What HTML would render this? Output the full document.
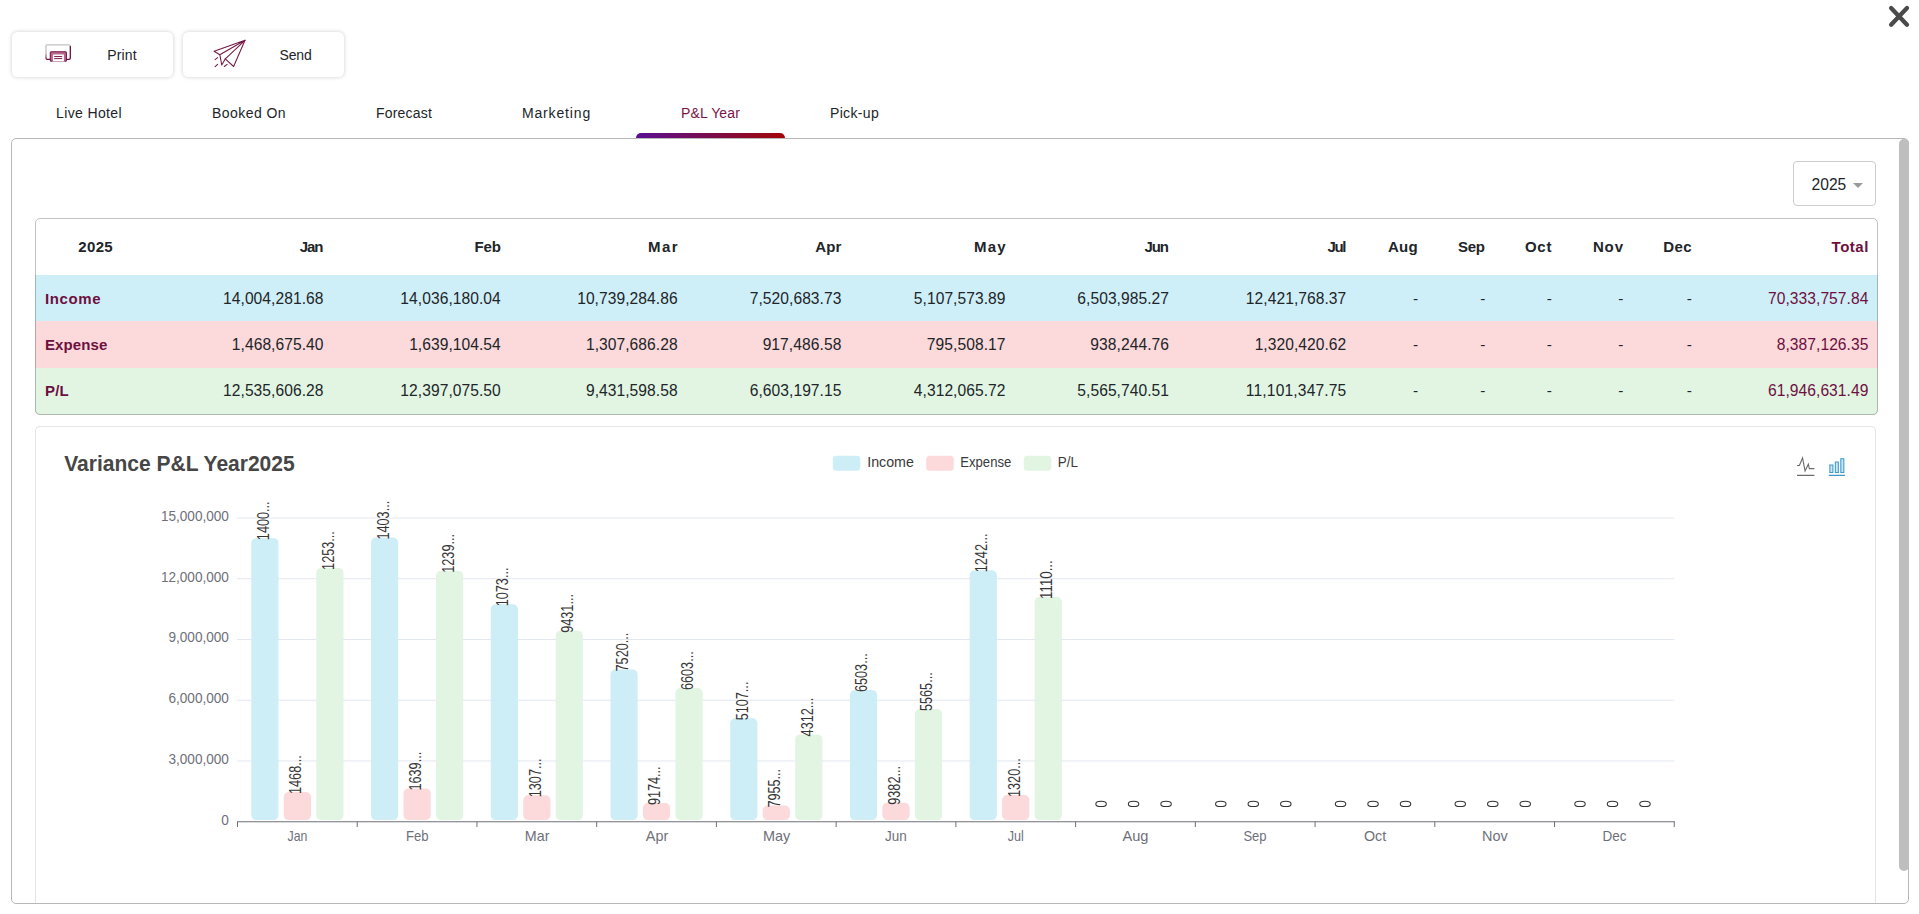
<!DOCTYPE html>
<html><head><meta charset="utf-8"><title>P&amp;L Year</title>
<style>
html,body{margin:0;padding:0;}
body{width:1919px;height:914px;overflow:hidden;background:#fff;position:relative;font-family:"Liberation Sans",sans-serif;color:#212529;}
.abs{position:absolute;}
.btn{position:absolute;top:32px;height:45.2px;width:161.5px;box-sizing:border-box;border-radius:5.5px;background:#fff;box-shadow:0 0 4px rgba(0,0,0,.2);}
.t{position:absolute;white-space:nowrap;line-height:1;}
.tab{position:absolute;top:105px;font-size:14px;color:#212529;white-space:nowrap;line-height:16px;}
.panel{position:absolute;left:11px;top:138px;width:1898px;height:766px;box-sizing:border-box;border:1px solid #b8b8b8;border-radius:5px;overflow:hidden;}
.tbl{position:absolute;left:35px;top:218px;width:1843px;height:197px;box-sizing:border-box;border-radius:5px;overflow:hidden;background:#fff;}
.tblb{position:absolute;left:35px;top:218px;width:1843px;height:197px;box-sizing:border-box;border:1px solid rgba(0,0,0,.24);border-radius:5px;}
.row{position:absolute;left:0;width:100%;}
.c{position:absolute;white-space:nowrap;font-size:15px;line-height:18px;text-align:right;}
.h{font-weight:bold;color:#212529;}
.m{color:#6d1040;}
</style></head><body>

<svg class="abs" style="left:1880px;top:0px" width="36" height="34" viewBox="1880 0 36 34"><path d="M1891.1 8 L1907 24.8 M1907 8 L1891.1 24.8" stroke="#4a4a4a" stroke-width="4.3" stroke-linecap="round" fill="none"/></svg>
<div class="btn" style="left:11.5px"></div>
<div class="btn" style="left:182.9px"></div>
<svg class="abs" style="left:40px;top:40px" width="40" height="28" viewBox="40 40 40 28">
<defs><linearGradient id="pg" x1="0" y1="0" x2="0" y2="1"><stop offset="0" stop-color="#c4c4c4"/><stop offset="0.55" stop-color="#c9b3bd"/><stop offset="1" stop-color="#6d1040"/></linearGradient></defs>
<path d="M50.3 59.3 H47.2 Q46 59.3 46 58.1 V46" fill="none" stroke="url(#pg)" stroke-width="1.3"/>
<path d="M46 46 Q46 44.8 47.2 44.8 H69 Q70.3 44.8 70.3 46" fill="none" stroke="#c2c2c2" stroke-width="1.3"/>
<path d="M70.3 46 V58.1 Q70.3 59.3 69.1 59.3 H66.5" fill="none" stroke="#6d1040" stroke-width="1.3"/>
<rect x="50.3" y="51.7" width="16.1" height="9.5" rx="1" fill="#b9678c" stroke="#74194a" stroke-width="1.1"/>
<rect x="52.9" y="54.5" width="11" height="7.3" fill="#fff"/>
<path d="M52.2 61.5 H64.6" stroke="#c9a2b6" stroke-width="0.9" fill="none"/>
<path d="M54.2 56.55 H62.2 M54.2 58.6 H62.2" stroke="#7a1c4b" stroke-width="1" fill="none"/>
</svg>
<svg class="abs" style="left:206px;top:34px" width="48" height="36" viewBox="206 34 48 36">
<g fill="none" stroke="#761846" stroke-width="1.05" stroke-linejoin="round" stroke-linecap="round">
<path d="M245 40.3 L214.1 51.3 L219.8 54.7 L245 40.3 L225.3 58.8 L221.8 65.1 L219.8 54.7"/>
<path d="M225.3 58.8 L233.6 66.5 L245 40.3"/>
<path d="M215.1 59.6 L217.6 57.6 M215.1 66.7 L217.6 64.3 M224.3 66.5 L227.1 64.3"/>
</g></svg>
<div class="t" style="left:107.30px;top:48.15px;font-size:14px;letter-spacing:0.143px;color:#212529;">Print</div>
<div class="t" style="left:279.50px;top:48.15px;font-size:14px;letter-spacing:-0.174px;color:#212529;">Send</div>
<div class="t" style="left:56.00px;top:106.15px;font-size:14px;letter-spacing:0.000px;color:#212529;letter-spacing:0.374px;">Live Hotel</div>
<div class="t" style="left:212.00px;top:106.15px;font-size:14px;letter-spacing:0.000px;color:#212529;letter-spacing:0.439px;">Booked On</div>
<div class="t" style="left:376.00px;top:106.15px;font-size:14px;letter-spacing:0.000px;color:#212529;letter-spacing:0.192px;">Forecast</div>
<div class="t" style="left:522.00px;top:106.15px;font-size:14px;letter-spacing:0.000px;color:#212529;letter-spacing:0.837px;">Marketing</div>
<div class="t" style="left:681.00px;top:106.15px;font-size:14px;letter-spacing:0.000px;color:#7a1548;letter-spacing:0.142px;">P&amp;L Year</div>
<div class="t" style="left:830.00px;top:106.15px;font-size:14px;letter-spacing:0.000px;color:#212529;letter-spacing:0.331px;">Pick-up</div>
<div class="abs" style="left:636px;top:133px;width:149px;height:6px;border-radius:5px 5px 0 0;background:linear-gradient(90deg,#5a0f96,#7a0d4a 50%,#a30606);"></div>
<div class="panel"></div>
<div class="abs" style="left:1793px;top:161px;width:83px;height:45px;box-sizing:border-box;border:1px solid #cdcdcd;border-radius:4px;background:#fff"></div>
<div class="t" style="left:1811.60px;top:176.59px;font-size:15.6px;letter-spacing:-0.026px;color:#212529;">2025</div>
<svg class="abs" style="left:1852px;top:182px" width="12" height="7" viewBox="0 0 12 7"><path d="M1 1 H11 L6 6 Z" fill="#9a9a9a"/></svg>
<div class="tbl">
<div class="row" style="top:57px;height:140px;background:#cfeff8"></div>
<div class="row" style="top:103.3px;height:94px;background:#fcd9da"></div>
<div class="row" style="top:149.7px;height:48px;background:#e2f5e3"></div>
</div><div class="tblb"></div>
<div class="t" style="left:78.30px;top:239.30px;font-size:15px;letter-spacing:0.333px;color:#212529;font-weight:bold;">2025</div>
<div class="t" style="left:299.70px;top:239.30px;font-size:15px;letter-spacing:-1.022px;color:#212529;font-weight:bold;">Jan</div>
<div class="t" style="left:474.55px;top:239.30px;font-size:15px;letter-spacing:-0.210px;color:#212529;font-weight:bold;">Feb</div>
<div class="t" style="left:648.10px;top:239.30px;font-size:15px;letter-spacing:1.415px;color:#212529;font-weight:bold;">Mar</div>
<div class="t" style="left:815.15px;top:239.30px;font-size:15px;letter-spacing:0.210px;color:#212529;font-weight:bold;">Apr</div>
<div class="t" style="left:974.00px;top:239.30px;font-size:15px;letter-spacing:1.162px;color:#212529;font-weight:bold;">May</div>
<div class="t" style="left:1144.50px;top:239.30px;font-size:15px;letter-spacing:-1.085px;color:#212529;font-weight:bold;">Jun</div>
<div class="t" style="left:1327.55px;top:239.30px;font-size:15px;letter-spacing:-1.463px;color:#212529;font-weight:bold;">Jul</div>
<div class="t" style="left:1388.00px;top:239.30px;font-size:15px;letter-spacing:0.270px;color:#212529;font-weight:bold;">Aug</div>
<div class="t" style="left:1458.10px;top:239.30px;font-size:15px;letter-spacing:-0.305px;color:#212529;font-weight:bold;">Sep</div>
<div class="t" style="left:1524.90px;top:239.30px;font-size:15px;letter-spacing:0.748px;color:#212529;font-weight:bold;">Oct</div>
<div class="t" style="left:1592.90px;top:239.30px;font-size:15px;letter-spacing:0.883px;color:#212529;font-weight:bold;">Nov</div>
<div class="t" style="left:1663.20px;top:239.30px;font-size:15px;letter-spacing:0.395px;color:#212529;font-weight:bold;">Dec</div>
<div class="t" style="left:1831.60px;top:239.30px;font-size:15px;letter-spacing:0.522px;color:#6d1040;font-weight:bold;">Total</div>
<div class="t" style="left:45.00px;top:291.10px;font-size:15px;letter-spacing:0.631px;color:#6d1040;font-weight:bold;">Income</div>
<div class="t" style="left:223.06px;top:290.59px;font-size:15.6px;letter-spacing:0.057px;color:#212529;">14,004,281.68</div>
<div class="t" style="left:400.36px;top:290.59px;font-size:15.6px;letter-spacing:0.057px;color:#212529;">14,036,180.04</div>
<div class="t" style="left:577.16px;top:290.59px;font-size:15.6px;letter-spacing:0.057px;color:#212529;">10,739,284.86</div>
<div class="t" style="left:749.74px;top:290.59px;font-size:15.6px;letter-spacing:0.052px;color:#212529;">7,520,683.73</div>
<div class="t" style="left:913.84px;top:290.59px;font-size:15.6px;letter-spacing:0.052px;color:#212529;">5,107,573.89</div>
<div class="t" style="left:1077.34px;top:290.59px;font-size:15.6px;letter-spacing:0.052px;color:#212529;">6,503,985.27</div>
<div class="t" style="left:1245.86px;top:290.59px;font-size:15.6px;letter-spacing:0.057px;color:#212529;">12,421,768.37</div>
<div class="t" style="left:1413.07px;top:290.76px;font-size:15.4px;letter-spacing:0.000px;color:#212529;">-</div>
<div class="t" style="left:1480.37px;top:290.76px;font-size:15.4px;letter-spacing:0.000px;color:#212529;">-</div>
<div class="t" style="left:1546.77px;top:290.76px;font-size:15.4px;letter-spacing:0.000px;color:#212529;">-</div>
<div class="t" style="left:1618.37px;top:290.76px;font-size:15.4px;letter-spacing:0.000px;color:#212529;">-</div>
<div class="t" style="left:1686.87px;top:290.76px;font-size:15.4px;letter-spacing:0.000px;color:#212529;">-</div>
<div class="t" style="left:1767.96px;top:290.59px;font-size:15.6px;letter-spacing:0.057px;color:#6d1040;">70,333,757.84</div>
<div class="t" style="left:45.00px;top:337.20px;font-size:15px;letter-spacing:0.114px;color:#6d1040;font-weight:bold;">Expense</div>
<div class="t" style="left:231.84px;top:336.69px;font-size:15.6px;letter-spacing:0.052px;color:#212529;">1,468,675.40</div>
<div class="t" style="left:409.14px;top:336.69px;font-size:15.6px;letter-spacing:0.052px;color:#212529;">1,639,104.54</div>
<div class="t" style="left:585.94px;top:336.69px;font-size:15.6px;letter-spacing:0.052px;color:#212529;">1,307,686.28</div>
<div class="t" style="left:762.63px;top:336.69px;font-size:15.6px;letter-spacing:0.077px;color:#212529;">917,486.58</div>
<div class="t" style="left:926.73px;top:336.69px;font-size:15.6px;letter-spacing:0.077px;color:#212529;">795,508.17</div>
<div class="t" style="left:1090.23px;top:336.69px;font-size:15.6px;letter-spacing:0.077px;color:#212529;">938,244.76</div>
<div class="t" style="left:1254.64px;top:336.69px;font-size:15.6px;letter-spacing:0.052px;color:#212529;">1,320,420.62</div>
<div class="t" style="left:1413.07px;top:336.86px;font-size:15.4px;letter-spacing:0.000px;color:#212529;">-</div>
<div class="t" style="left:1480.37px;top:336.86px;font-size:15.4px;letter-spacing:0.000px;color:#212529;">-</div>
<div class="t" style="left:1546.77px;top:336.86px;font-size:15.4px;letter-spacing:0.000px;color:#212529;">-</div>
<div class="t" style="left:1618.37px;top:336.86px;font-size:15.4px;letter-spacing:0.000px;color:#212529;">-</div>
<div class="t" style="left:1686.87px;top:336.86px;font-size:15.4px;letter-spacing:0.000px;color:#212529;">-</div>
<div class="t" style="left:1776.74px;top:336.69px;font-size:15.6px;letter-spacing:0.052px;color:#6d1040;">8,387,126.35</div>
<div class="t" style="left:45.00px;top:383.40px;font-size:15px;letter-spacing:0.222px;color:#6d1040;font-weight:bold;">P/L</div>
<div class="t" style="left:223.06px;top:382.89px;font-size:15.6px;letter-spacing:0.057px;color:#212529;">12,535,606.28</div>
<div class="t" style="left:400.36px;top:382.89px;font-size:15.6px;letter-spacing:0.057px;color:#212529;">12,397,075.50</div>
<div class="t" style="left:585.94px;top:382.89px;font-size:15.6px;letter-spacing:0.052px;color:#212529;">9,431,598.58</div>
<div class="t" style="left:749.74px;top:382.89px;font-size:15.6px;letter-spacing:0.052px;color:#212529;">6,603,197.15</div>
<div class="t" style="left:913.84px;top:382.89px;font-size:15.6px;letter-spacing:0.052px;color:#212529;">4,312,065.72</div>
<div class="t" style="left:1077.34px;top:382.89px;font-size:15.6px;letter-spacing:0.052px;color:#212529;">5,565,740.51</div>
<div class="t" style="left:1245.86px;top:382.89px;font-size:15.6px;letter-spacing:0.153px;color:#212529;">11,101,347.75</div>
<div class="t" style="left:1413.07px;top:383.06px;font-size:15.4px;letter-spacing:0.000px;color:#212529;">-</div>
<div class="t" style="left:1480.37px;top:383.06px;font-size:15.4px;letter-spacing:0.000px;color:#212529;">-</div>
<div class="t" style="left:1546.77px;top:383.06px;font-size:15.4px;letter-spacing:0.000px;color:#212529;">-</div>
<div class="t" style="left:1618.37px;top:383.06px;font-size:15.4px;letter-spacing:0.000px;color:#212529;">-</div>
<div class="t" style="left:1686.87px;top:383.06px;font-size:15.4px;letter-spacing:0.000px;color:#212529;">-</div>
<div class="t" style="left:1767.96px;top:382.89px;font-size:15.6px;letter-spacing:0.057px;color:#6d1040;">61,946,631.49</div>
<div class="abs" style="left:35px;top:426px;width:1841px;height:477px;box-sizing:border-box;border:1px solid #e4e4e4;border-bottom:none;border-radius:5px 5px 0 0;background:#fff"></div>
<svg class="abs" style="left:0;top:426px" width="1919" height="478" viewBox="0 426 1919 478" font-family="Liberation Sans, sans-serif">
<line x1="237.0" x2="1674.26" y1="760.96" y2="760.96" stroke="#e2e7f0" stroke-width="1"/>
<line x1="237.0" x2="1674.26" y1="700.22" y2="700.22" stroke="#e2e7f0" stroke-width="1"/>
<line x1="237.0" x2="1674.26" y1="639.48" y2="639.48" stroke="#e2e7f0" stroke-width="1"/>
<line x1="237.0" x2="1674.26" y1="578.74" y2="578.74" stroke="#e2e7f0" stroke-width="1"/>
<line x1="237.0" x2="1674.26" y1="518.00" y2="518.00" stroke="#e2e7f0" stroke-width="1"/>
<text x="228.90" y="824.50" font-size="15.2" fill="#6e7079" text-anchor="end" textLength="7.56" lengthAdjust="spacingAndGlyphs">0</text>
<text x="228.90" y="763.76" font-size="15.2" fill="#6e7079" text-anchor="end" textLength="60.44" lengthAdjust="spacingAndGlyphs">3,000,000</text>
<text x="228.90" y="703.02" font-size="15.2" fill="#6e7079" text-anchor="end" textLength="60.44" lengthAdjust="spacingAndGlyphs">6,000,000</text>
<text x="228.90" y="642.28" font-size="15.2" fill="#6e7079" text-anchor="end" textLength="60.44" lengthAdjust="spacingAndGlyphs">9,000,000</text>
<text x="228.90" y="581.54" font-size="15.2" fill="#6e7079" text-anchor="end" textLength="68.00" lengthAdjust="spacingAndGlyphs">12,000,000</text>
<text x="228.90" y="520.80" font-size="15.2" fill="#6e7079" text-anchor="end" textLength="68.00" lengthAdjust="spacingAndGlyphs">15,000,000</text>
<rect x="251.27" y="538.16" width="27.2" height="281.94" rx="5" ry="5" fill="#cdeef7"/>
<rect x="283.76" y="791.96" width="27.2" height="28.14" rx="5" ry="5" fill="#fcd9da"/>
<rect x="316.26" y="567.90" width="27.2" height="252.20" rx="5" ry="5" fill="#e1f5e2"/>
<rect x="371.00" y="537.51" width="27.2" height="282.59" rx="5" ry="5" fill="#cdeef7"/>
<rect x="403.50" y="788.51" width="27.2" height="31.59" rx="5" ry="5" fill="#fcd9da"/>
<rect x="436.00" y="570.70" width="27.2" height="249.40" rx="5" ry="5" fill="#e1f5e2"/>
<rect x="490.73" y="604.27" width="27.2" height="215.83" rx="5" ry="5" fill="#cdeef7"/>
<rect x="523.23" y="795.22" width="27.2" height="24.88" rx="5" ry="5" fill="#fcd9da"/>
<rect x="555.73" y="630.74" width="27.2" height="189.36" rx="5" ry="5" fill="#e1f5e2"/>
<rect x="610.46" y="669.43" width="27.2" height="150.67" rx="5" ry="5" fill="#cdeef7"/>
<rect x="642.96" y="803.12" width="27.2" height="16.98" rx="5" ry="5" fill="#fcd9da"/>
<rect x="675.46" y="688.01" width="27.2" height="132.09" rx="5" ry="5" fill="#e1f5e2"/>
<rect x="730.18" y="718.29" width="27.2" height="101.81" rx="5" ry="5" fill="#cdeef7"/>
<rect x="762.68" y="805.59" width="27.2" height="14.51" rx="5" ry="5" fill="#fcd9da"/>
<rect x="795.18" y="734.40" width="27.2" height="85.70" rx="5" ry="5" fill="#e1f5e2"/>
<rect x="849.91" y="690.02" width="27.2" height="130.08" rx="5" ry="5" fill="#cdeef7"/>
<rect x="882.41" y="802.70" width="27.2" height="17.40" rx="5" ry="5" fill="#fcd9da"/>
<rect x="914.91" y="709.01" width="27.2" height="111.09" rx="5" ry="5" fill="#e1f5e2"/>
<rect x="969.64" y="570.20" width="27.2" height="249.90" rx="5" ry="5" fill="#cdeef7"/>
<rect x="1002.14" y="794.97" width="27.2" height="25.13" rx="5" ry="5" fill="#fcd9da"/>
<rect x="1034.64" y="596.93" width="27.2" height="223.17" rx="5" ry="5" fill="#e1f5e2"/>
<ellipse cx="1101.07" cy="803.9" rx="5.25" ry="2.65" fill="none" stroke="#333" stroke-width="1.05"/>
<ellipse cx="1133.57" cy="803.9" rx="5.25" ry="2.65" fill="none" stroke="#333" stroke-width="1.05"/>
<ellipse cx="1166.07" cy="803.9" rx="5.25" ry="2.65" fill="none" stroke="#333" stroke-width="1.05"/>
<ellipse cx="1220.80" cy="803.9" rx="5.25" ry="2.65" fill="none" stroke="#333" stroke-width="1.05"/>
<ellipse cx="1253.30" cy="803.9" rx="5.25" ry="2.65" fill="none" stroke="#333" stroke-width="1.05"/>
<ellipse cx="1285.80" cy="803.9" rx="5.25" ry="2.65" fill="none" stroke="#333" stroke-width="1.05"/>
<ellipse cx="1340.53" cy="803.9" rx="5.25" ry="2.65" fill="none" stroke="#333" stroke-width="1.05"/>
<ellipse cx="1373.03" cy="803.9" rx="5.25" ry="2.65" fill="none" stroke="#333" stroke-width="1.05"/>
<ellipse cx="1405.53" cy="803.9" rx="5.25" ry="2.65" fill="none" stroke="#333" stroke-width="1.05"/>
<ellipse cx="1460.26" cy="803.9" rx="5.25" ry="2.65" fill="none" stroke="#333" stroke-width="1.05"/>
<ellipse cx="1492.76" cy="803.9" rx="5.25" ry="2.65" fill="none" stroke="#333" stroke-width="1.05"/>
<ellipse cx="1525.26" cy="803.9" rx="5.25" ry="2.65" fill="none" stroke="#333" stroke-width="1.05"/>
<ellipse cx="1579.99" cy="803.9" rx="5.25" ry="2.65" fill="none" stroke="#333" stroke-width="1.05"/>
<ellipse cx="1612.49" cy="803.9" rx="5.25" ry="2.65" fill="none" stroke="#333" stroke-width="1.05"/>
<ellipse cx="1644.99" cy="803.9" rx="5.25" ry="2.65" fill="none" stroke="#333" stroke-width="1.05"/>
<line x1="237.0" x2="1674.76" y1="821.8000000000001" y2="821.8000000000001" stroke="#6e7079" stroke-width="1.1"/>
<line x1="237.50" x2="237.50" y1="821.7" y2="827.0" stroke="#6e7079" stroke-width="1"/>
<line x1="357.23" x2="357.23" y1="821.7" y2="827.0" stroke="#6e7079" stroke-width="1"/>
<line x1="476.96" x2="476.96" y1="821.7" y2="827.0" stroke="#6e7079" stroke-width="1"/>
<line x1="596.69" x2="596.69" y1="821.7" y2="827.0" stroke="#6e7079" stroke-width="1"/>
<line x1="716.42" x2="716.42" y1="821.7" y2="827.0" stroke="#6e7079" stroke-width="1"/>
<line x1="836.15" x2="836.15" y1="821.7" y2="827.0" stroke="#6e7079" stroke-width="1"/>
<line x1="955.88" x2="955.88" y1="821.7" y2="827.0" stroke="#6e7079" stroke-width="1"/>
<line x1="1075.61" x2="1075.61" y1="821.7" y2="827.0" stroke="#6e7079" stroke-width="1"/>
<line x1="1195.34" x2="1195.34" y1="821.7" y2="827.0" stroke="#6e7079" stroke-width="1"/>
<line x1="1315.07" x2="1315.07" y1="821.7" y2="827.0" stroke="#6e7079" stroke-width="1"/>
<line x1="1434.80" x2="1434.80" y1="821.7" y2="827.0" stroke="#6e7079" stroke-width="1"/>
<line x1="1554.53" x2="1554.53" y1="821.7" y2="827.0" stroke="#6e7079" stroke-width="1"/>
<line x1="1674.26" x2="1674.26" y1="821.7" y2="827.0" stroke="#6e7079" stroke-width="1"/>
<text x="287.50" y="840.9" font-size="14.4" fill="#6e7079" textLength="19.90" lengthAdjust="spacingAndGlyphs">Jan</text>
<text x="406.00" y="840.9" font-size="14.4" fill="#6e7079" textLength="22.60" lengthAdjust="spacingAndGlyphs">Feb</text>
<text x="524.80" y="840.9" font-size="14.4" fill="#6e7079" textLength="24.60" lengthAdjust="spacingAndGlyphs">Mar</text>
<text x="645.80" y="840.9" font-size="14.4" fill="#6e7079" textLength="22.40" lengthAdjust="spacingAndGlyphs">Apr</text>
<text x="763.00" y="840.9" font-size="14.4" fill="#6e7079" textLength="27.30" lengthAdjust="spacingAndGlyphs">May</text>
<text x="885.10" y="840.9" font-size="14.4" fill="#6e7079" textLength="21.70" lengthAdjust="spacingAndGlyphs">Jun</text>
<text x="1007.70" y="840.9" font-size="14.4" fill="#6e7079" textLength="16.10" lengthAdjust="spacingAndGlyphs">Jul</text>
<text x="1122.40" y="840.9" font-size="14.4" fill="#6e7079" textLength="26.00" lengthAdjust="spacingAndGlyphs">Aug</text>
<text x="1243.40" y="840.9" font-size="14.4" fill="#6e7079" textLength="23.10" lengthAdjust="spacingAndGlyphs">Sep</text>
<text x="1364.00" y="840.9" font-size="14.4" fill="#6e7079" textLength="22.20" lengthAdjust="spacingAndGlyphs">Oct</text>
<text x="1482.10" y="840.9" font-size="14.4" fill="#6e7079" textLength="25.70" lengthAdjust="spacingAndGlyphs">Nov</text>
<text x="1602.60" y="840.9" font-size="14.4" fill="#6e7079" textLength="24.00" lengthAdjust="spacingAndGlyphs">Dec</text>
<text transform="translate(268.76,540.16) rotate(-90)" font-size="16" fill="#363636" textLength="38.70" lengthAdjust="spacingAndGlyphs">1400...</text>
<text transform="translate(301.26,793.96) rotate(-90)" font-size="16" fill="#363636" textLength="38.70" lengthAdjust="spacingAndGlyphs">1468...</text>
<text transform="translate(333.76,569.90) rotate(-90)" font-size="16" fill="#363636" textLength="38.70" lengthAdjust="spacingAndGlyphs">1253...</text>
<text transform="translate(388.50,539.51) rotate(-90)" font-size="16" fill="#363636" textLength="38.70" lengthAdjust="spacingAndGlyphs">1403...</text>
<text transform="translate(421.00,790.51) rotate(-90)" font-size="16" fill="#363636" textLength="38.70" lengthAdjust="spacingAndGlyphs">1639...</text>
<text transform="translate(453.50,572.70) rotate(-90)" font-size="16" fill="#363636" textLength="38.70" lengthAdjust="spacingAndGlyphs">1239...</text>
<text transform="translate(508.23,606.27) rotate(-90)" font-size="16" fill="#363636" textLength="38.70" lengthAdjust="spacingAndGlyphs">1073...</text>
<text transform="translate(540.73,797.22) rotate(-90)" font-size="16" fill="#363636" textLength="38.70" lengthAdjust="spacingAndGlyphs">1307...</text>
<text transform="translate(573.23,632.74) rotate(-90)" font-size="16" fill="#363636" textLength="38.70" lengthAdjust="spacingAndGlyphs">9431...</text>
<text transform="translate(627.96,671.43) rotate(-90)" font-size="16" fill="#363636" textLength="38.70" lengthAdjust="spacingAndGlyphs">7520...</text>
<text transform="translate(660.46,805.12) rotate(-90)" font-size="16" fill="#363636" textLength="38.70" lengthAdjust="spacingAndGlyphs">9174...</text>
<text transform="translate(692.96,690.01) rotate(-90)" font-size="16" fill="#363636" textLength="38.70" lengthAdjust="spacingAndGlyphs">6603...</text>
<text transform="translate(747.68,720.29) rotate(-90)" font-size="16" fill="#363636" textLength="38.70" lengthAdjust="spacingAndGlyphs">5107...</text>
<text transform="translate(780.18,807.59) rotate(-90)" font-size="16" fill="#363636" textLength="38.70" lengthAdjust="spacingAndGlyphs">7955...</text>
<text transform="translate(812.68,736.40) rotate(-90)" font-size="16" fill="#363636" textLength="38.70" lengthAdjust="spacingAndGlyphs">4312...</text>
<text transform="translate(867.41,692.02) rotate(-90)" font-size="16" fill="#363636" textLength="38.70" lengthAdjust="spacingAndGlyphs">6503...</text>
<text transform="translate(899.91,804.70) rotate(-90)" font-size="16" fill="#363636" textLength="38.70" lengthAdjust="spacingAndGlyphs">9382...</text>
<text transform="translate(932.41,711.01) rotate(-90)" font-size="16" fill="#363636" textLength="38.70" lengthAdjust="spacingAndGlyphs">5565...</text>
<text transform="translate(987.14,572.20) rotate(-90)" font-size="16" fill="#363636" textLength="38.70" lengthAdjust="spacingAndGlyphs">1242...</text>
<text transform="translate(1019.64,796.97) rotate(-90)" font-size="16" fill="#363636" textLength="38.70" lengthAdjust="spacingAndGlyphs">1320...</text>
<text transform="translate(1052.14,598.93) rotate(-90)" font-size="16" fill="#363636" textLength="38.70" lengthAdjust="spacingAndGlyphs">1110...</text>
<text x="64.20" y="470.9" font-size="21.4" font-weight="bold" fill="#464646" textLength="230.49" lengthAdjust="spacingAndGlyphs">Variance P&amp;L Year2025</text>
<rect x="832.8" y="455.8" width="27.5" height="15" rx="3.5" fill="#cdeef7"/>
<text x="867.20" y="467" font-size="14.7" fill="#3a3a3a" textLength="46.60" lengthAdjust="spacingAndGlyphs">Income</text>
<rect x="926.2" y="455.8" width="27.5" height="15" rx="3.5" fill="#fcd9da"/>
<text x="960.30" y="467" font-size="14.7" fill="#3a3a3a" textLength="51.00" lengthAdjust="spacingAndGlyphs">Expense</text>
<rect x="1023.8" y="455.8" width="27.5" height="15" rx="3.5" fill="#e1f5e2"/>
<text x="1057.80" y="467" font-size="14.7" fill="#3a3a3a" textLength="20.20" lengthAdjust="spacingAndGlyphs">P/L</text>
<g transform="translate(1795.61,455.65) scale(0.3385,0.3405)"><path d="M4.1,28.9h7.1l9.3-22l7.4,38l9.7-19.7l3,12.8h14.9M4.1,58h51.4" fill="none" stroke="#6c6c6c" stroke-width="1.1" vector-effect="non-scaling-stroke"/></g>
<g transform="translate(1827.87,458.10) scale(0.2998,0.2982)"><path d="M6.7,22.9h10V48h-10V22.9zM24.9,13h10v35h-10V13zM43.2,2h10v46h-10V2zM3.1,58h53.7" fill="#c4e9f9" stroke="#3e98c5" stroke-width="1.05" vector-effect="non-scaling-stroke"/></g>
</svg>
<div class="abs" style="left:1899px;top:138.6px;width:9.9px;height:732.9px;background:#bebebe;border-radius:5px"></div>
</body></html>
